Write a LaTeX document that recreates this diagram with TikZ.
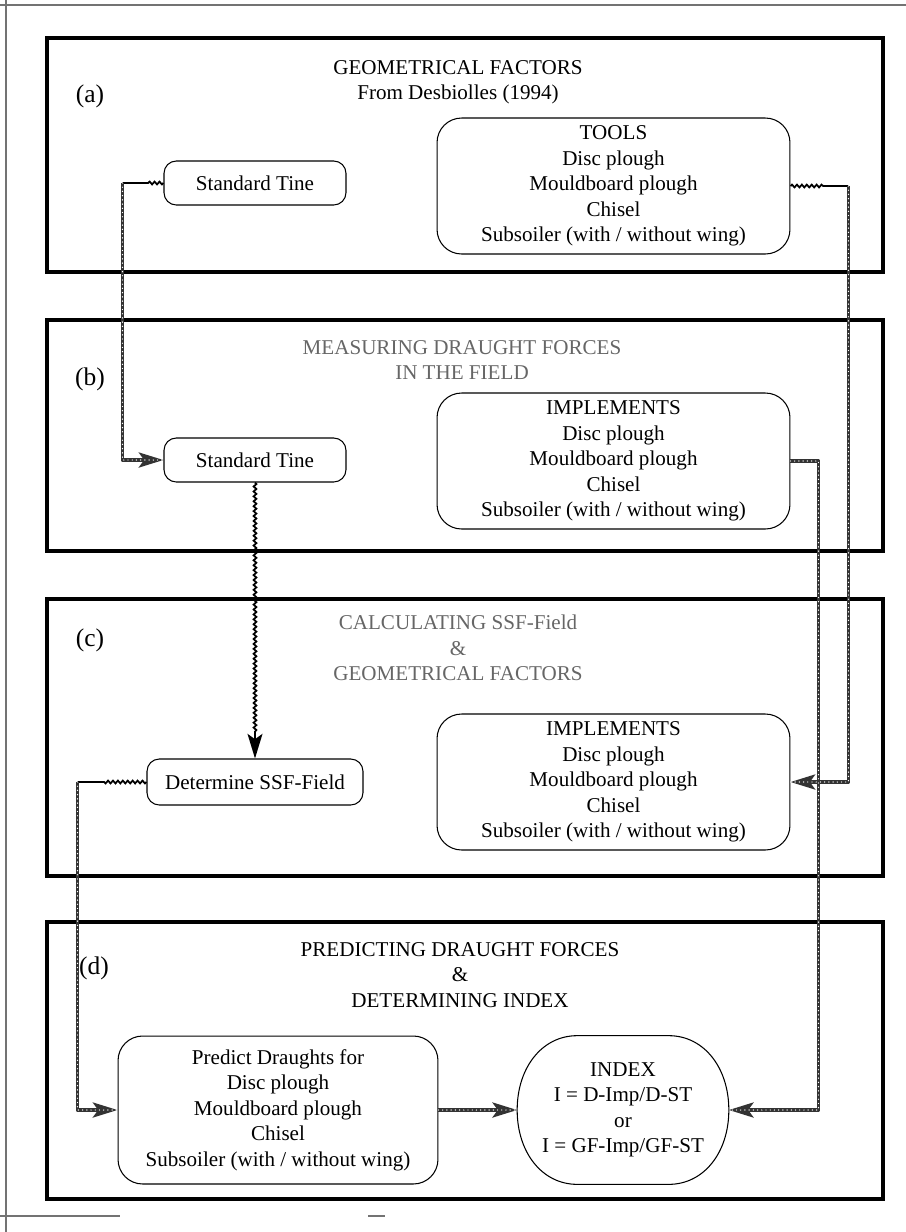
\documentclass[tikz,border=0pt]{standalone}
\usepackage{fontspec}
\setmainfont{Liberation Serif}
\usetikzlibrary{positioning,arrows.meta,decorations.pathmorphing}

\tikzset{
  frame/.style={draw,line width=2pt,inner sep=0pt,outer sep=0pt,minimum width=16.72cm},
  sbox/.style={draw,rounded corners=7pt,line width=0.6pt,minimum width=3.64cm,
               minimum height=0.88cm,align=center},
  lbox/.style={draw,rounded corners=14pt,line width=0.6pt,minimum width=7.06cm,
               minimum height=2.72cm,align=center},
  ibox/.style={minimum width=4.22cm,minimum height=2.96cm,inner sep=0pt,align=center},
  barrel/.style={line width=0.6pt},
  ttl/.style={align=center},
  ghost/.style={align=center,text=black!60},
  lbl/.style={font=\fontsize{14.5}{16}\selectfont},
  outer/.style={draw=black!55,line width=1pt},
  chain/.style={line width=2.2pt,black!80,line join=round,
                postaction={draw=white,line width=0.8pt,dash pattern=on 0pt off 2.4pt,
                            line cap=round,arrows=-}},
  wavy/.style={line width=1pt,decorate,
               decoration={snake,amplitude=0.8pt,segment length=2.8pt,post length=14pt}},
  tip/.style={-{Stealth[length=14pt,width=8.5pt,inset=3pt]}},
}

\begin{document}
\begin{tikzpicture}[x=0.02cm,y=-0.02cm,font=\fontsize{12}{14.5}\selectfont]
    \useasboundingbox (0,0) rectangle (906,1232);
    % Outer frame
    \draw[outer] (0,5) -- (906,5);
    \draw[outer] (6,0) -- (6,1232);
    \draw[outer] (0,1216) -- (120,1216);
    \draw[outer] (368,1216) -- (385,1216);

    % Frames
    \node[frame, minimum height=4.68cm] (boxa) at (465,155) {};
    \node[frame, minimum height=4.62cm] (boxb) at (465,435.5) {};
    \node[frame, minimum height=5.54cm] (boxc) at (465,737.5) {};
    \node[frame, minimum height=5.54cm] (boxd) at (465,1060.5) {};

    % Titles
    \node[ttl] (ta) at (458,82) {GEOMETRICAL FACTORS\\From Desbiolles (1994)};
    \node[ghost] (tb) at (462,360) {MEASURING DRAUGHT FORCES\\IN THE FIELD};
    \node[ghost] (tc) at (458,648) {CALCULATING SSF-Field\\\&\\GEOMETRICAL FACTORS};
    \node[ttl] (td) at (460,975) {PREDICTING DRAUGHT FORCES\\\&\\DETERMINING INDEX};
    \node[lbl] (la) at (90,96) {(a)};
    \node[lbl] (lb) at (90,379) {(b)};
    \node[lbl] (lc) at (90,640) {(c)};
    \node[lbl] (ld) at (94,968) {(d)};

    % Node definitions
    \node[sbox] (sta) at (255,183) {Standard Tine};
    \node[lbox] (tools) at (613.5,186) {TOOLS\\Disc plough\\Mouldboard plough\\Chisel\\Subsoiler (with / without wing)};
    \node[sbox] (stb) at (255,460) {Standard Tine};
    \node[lbox] (impb) at (613.5,461) {IMPLEMENTS\\Disc plough\\Mouldboard plough\\Chisel\\Subsoiler (with / without wing)};
    \node[sbox, minimum width=4.32cm, minimum height=0.92cm] (det) at (255,782) {Determine SSF-Field};
    \node[lbox] (impc) at (613.5,782) {IMPLEMENTS\\Disc plough\\Mouldboard plough\\Chisel\\Subsoiler (with / without wing)};
    \node[lbox, minimum width=6.4cm, minimum height=2.96cm] (pred) at (278,1110) {Predict Draughts for\\Disc plough\\Mouldboard plough\\Chisel\\Subsoiler (with / without wing)};
    \node[ibox] (index) at (623,1110) {INDEX\\I = D-Imp/D-ST\\or\\I = GF-Imp/GF-ST};
    \draw[barrel] ([xshift=1.2cm]index.north west) -- ([xshift=-1.2cm]index.north east)
        .. controls +(0.7cm,0) and +(0,0.85cm) .. (index.east)
        .. controls +(0,-0.85cm) and +(0.7cm,0) .. ([xshift=-1.2cm]index.south east)
        -- ([xshift=1.2cm]index.south west)
        .. controls +(-0.7cm,0) and +(0,-0.85cm) .. (index.west)
        .. controls +(0,0.85cm) and +(-0.7cm,0) .. cycle;

    % Edges
    \path (sta.west) ++(-41,0) coordinate (ca);
    \path (tools.east) ++(58,0) coordinate (cb);
    \path (impb.east) ++(28,0) coordinate (cc);
    \path (det.west) ++(-69,0) coordinate (cd);
    \draw[wavy] (sta.west) -- (ca);
    \draw[chain, tip] (ca) |- (stb.west);
    \draw[wavy] (tools.east) -- (cb);
    \draw[chain, tip] (cb) |- (impc.east);
    \draw[wavy, tip] (stb.south) -- (det.north);
    \draw[chain, tip] (impb.east) -- (cc) |- (index.east);
    \draw[wavy] (det.west) -- (cd);
    \draw[chain, tip] (cd) |- (pred.west);
    \draw[chain, tip] (pred.east) -- (index.west);
\end{tikzpicture}
\end{document}
